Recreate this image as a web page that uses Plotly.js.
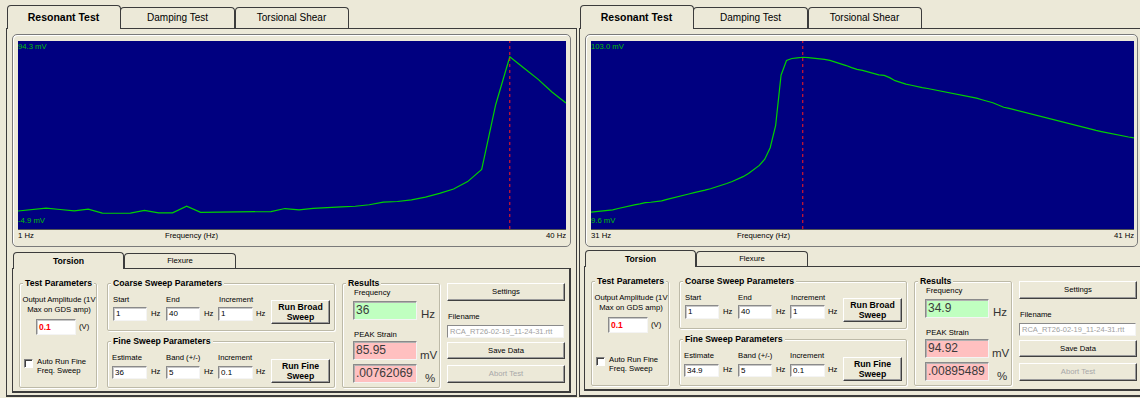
<!DOCTYPE html>
<html><head><meta charset="utf-8">
<script src="https://cdn.plot.ly/plotly-3.0.1.min.js"></script>
<style>
html,body{margin:0;padding:0;}
body{width:1140px;height:398px;overflow:hidden;background:#ECE9D8;position:relative;font-family:"Liberation Sans",Arial,sans-serif;font-size:7.7px;color:#000;}
.a{position:absolute;box-sizing:border-box;}
.t{position:absolute;white-space:nowrap;line-height:10px;}
.tab{position:absolute;box-sizing:border-box;border:1px solid #3c3c3c;border-bottom:none;border-radius:4px 4px 0 0;background:#ECE9D8;text-align:center;white-space:nowrap;}
.page{position:absolute;box-sizing:border-box;border:1px solid #3c3c3c;}
.frame{position:absolute;box-sizing:border-box;border:1px solid #7a7a7a;border-radius:5px;box-shadow:inset 1px 1px 0 #fff;}
.grp{position:absolute;box-sizing:border-box;border:1px solid #bdbaa8;border-radius:2px;box-shadow:inset 1px 1px 0 #fff,1px 1px 0 #fff;}
.gt{position:absolute;background:#ECE9D8;font-weight:bold;font-size:8.7px;padding:0 2px;line-height:10px;white-space:nowrap;}
.inp{position:absolute;box-sizing:border-box;background:#fff;border:1px solid;border-color:#8a8a8a #f4f4f4 #f4f4f4 #8a8a8a;box-shadow:inset 1px 1px 0 #c8c8c8;font-size:8px;padding-left:2px;white-space:nowrap;overflow:hidden;}
.btn{position:absolute;box-sizing:border-box;background:#ECE9D8;border:1px solid;border-color:#fff #404040 #404040 #fff;box-shadow:inset -1px -1px 0 #9a9a9a;text-align:center;display:flex;align-items:center;justify-content:center;line-height:10px;white-space:nowrap;}
.res{position:absolute;box-sizing:border-box;border:1px solid;border-color:#8a8a8a #f4f4f4 #f4f4f4 #8a8a8a;box-shadow:inset 1px 1px 0 #b0b0b0;font-size:12px;color:#3a3a3a;padding-left:2px;}
.chk{position:absolute;box-sizing:border-box;background:#fff;border:1px solid;border-color:#808080 #fff #fff #808080;box-shadow:inset 1px 1px 0 #404040;}
</style></head><body>
<div id="gui"></div>
<div id="plotL" class="a"></div>
<div id="plotR" class="a"></div>
<script>
// ---------- chart data ----------
const leftFreq = [1,2,3,4,5,6,7,8,9,10,11,12,13,14,15,16,17,18,19,20,21,22,23,24,25,26,27,28,29,30,31,32,33,34,35,36,37,38,39,40];
const leftStrain = [4.6,5.3,6.1,5.4,4.7,5.6,3.5,3.4,3.5,4.9,3.6,3.6,7.1,3.9,4.0,4.1,4.1,4.2,4.3,5.9,5.2,6.0,6.2,6.8,7.1,7.9,9.3,9.6,10.5,11.9,13.9,16.2,20.1,26.5,60.8,85.95,80.1,74.2,67.4,61.6];
const rightFreq = [31.0,31.1,31.2,31.3,31.4,31.5,31.6,31.7,31.8,31.9,32.0,32.1,32.2,32.3,32.4,32.5,32.6,32.7,32.8,32.9,33.0,33.1,33.2,33.3,33.4,33.5,33.6,33.7,33.8,33.9,34.0,34.1,34.2,34.3,34.4,34.5,34.6,34.7,34.8,34.9,35.0,35.1,35.2,35.3,35.4,35.5,35.6,35.7,35.8,35.9,36.0,36.1,36.2,36.3,36.4,36.5,36.6,36.7,36.8,36.9,37.0,37.1,37.2,37.3,37.4,37.5,37.6,37.7,37.8,37.9,38.0,38.1,38.2,38.3,38.4,38.5,38.6,38.7,38.8,38.9,39.0,39.1,39.2,39.3,39.4,39.5,39.6,39.7,39.8,39.9,40.0,40.1,40.2,40.3,40.4,40.5,40.6,40.7,40.8,40.9,41.0];
const rightStrain = [18.0,18.3,18.5,18.8,19.1,19.8,20.5,21.0,21.6,22.1,22.7,22.9,23.1,23.6,24.3,24.9,25.6,26.3,27.0,27.7,28.2,28.9,29.6,30.4,31.2,32.2,33.2,34.3,35.6,37.2,39.0,41.2,44.3,50.0,61.0,86.0,93.3,94.3,94.6,94.92,94.7,94.5,94.2,93.9,93.4,92.6,91.8,90.8,89.8,88.9,88.4,87.6,86.8,86.2,85.9,84.8,83.3,82.3,81.6,81.0,80.3,79.8,79.4,78.9,78.3,77.7,77.2,76.6,76.2,75.7,75.3,74.6,73.8,73.1,72.3,71.2,70.1,69.5,68.8,68.2,67.6,67.0,66.3,65.6,64.8,64.2,63.4,62.6,61.8,61.1,60.6,60.0,59.3,58.6,58.0,57.4,56.9,56.3,55.8,55.3,54.9];
const yMin = [-4.9, 9.6];
const yMax = [94.3, 103.0];
const xMin = [1, 31];
const xMax = [40, 41];
const peakFreq = [36, 34.9];
const yTopLabels = ["94.3 mV", "103.0 mV"];
const yBottomLabels = ["-4.9 mV", "9.6 mV"];
const xStartLabels = ["1 Hz", "31 Hz"];
const xEndLabels = ["40 Hz", "41 Hz"];
const xTitle = "Frequency (Hz)";
// ---------- GUI texts ----------
const topTabs = ["Resonant Test", "Damping Test", "Torsional Shear"];
const lowerTabs = ["Torsion", "Flexure"];
const outputAmp = ["0.1", "0.1"];
const coarseStart = ["1", "1"];
const coarseEnd = ["40", "40"];
const coarseInc = ["1", "1"];
const fineEstimate = ["36", "34.9"];
const fineBand = ["5", "5"];
const fineInc = ["0.1", "0.1"];
const resultFreq = ["36", "34.9"];
const resultPeak = ["85.95", "94.92"];
const resultPct = [".00762069", ".00895489"];
const fileName = "RCA_RT26-02-19_11-24-31.rtt";

const G = [];
function el(cls, x, y, w, h, html, style) {
  G.push('<div class="' + cls + '" style="left:' + x + 'px;top:' + y + 'px;' +
    (w != null ? 'width:' + w + 'px;' : '') + (h != null ? 'height:' + h + 'px;' : '') + (style || '') + '">' + (html || '') + '</div>');
}
function txt(x, yc, s, style) { el('t', x, yc - 5, null, null, s, style); }
function txtC(xc, yc, s, style) { el('t', xc - 60, yc - 5, 120, null, s, 'text-align:center;' + (style || '')); }

function buildTop(ox, pageW, frameW) {
  el('page', ox + 6, 28, pageW, 369, '', 'border-bottom-width:2px;');
  const tx = [6.5, 120, 234.5], tw = [114, 115, 114];
  for (let i = 2; i >= 0; i--) {
    if (i === 0) el('tab', ox + tx[i], 5, tw[i], 24, topTabs[i], 'z-index:3;font-weight:bold;font-size:10.5px;line-height:23px;');
    else el('tab', ox + tx[i], 7, tw[i], 21, topTabs[i], 'z-index:2;font-size:10px;line-height:20px;');
  }
  el('frame', ox + 12, 34, frameW, 213);
}

function buildLower(ox, oy, k) {
  const X = v => ox + v, Y = v => oy + v;
  el('page', X(12), Y(268), 559, 125, '', 'border-bottom-width:2px;border-right-width:2px;');
  el('tab', X(124), Y(253), 112, 15, lowerTabs[1], 'z-index:2;line-height:14px;');
  el('tab', X(13), Y(252), 111, 17, lowerTabs[0], 'z-index:3;font-weight:bold;font-size:8.7px;line-height:17px;');
  // Test parameters
  el('grp', X(19), Y(283), 78, 105);
  el('gt', X(23), Y(278), null, null, 'Test Parameters');
  txtC(X(59), Y(300), 'Output Amplitude (1V');
  txtC(X(59), Y(310), 'Max on GDS amp)');
  el('inp', X(36), Y(319), 40, 16, outputAmp[k], 'color:#ff0000;font-weight:bold;font-size:8.5px;line-height:14px;');
  txt(X(79), Y(327), '(V)');
  el('chk', X(24), Y(359), 9, 9);
  txt(X(37), Y(362), 'Auto Run Fine');
  txt(X(37), Y(371), 'Freq. Sweep');
  // Coarse sweep
  el('grp', X(107), Y(283), 228, 48);
  el('gt', X(111), Y(278), null, null, 'Coarse Sweep Parameters');
  txt(X(113), Y(300), 'Start'); txt(X(166), Y(300), 'End'); txt(X(219), Y(300), 'Increment');
  el('inp', X(113), Y(307), 34, 14, coarseStart[k], 'line-height:12px;');
  el('inp', X(166), Y(307), 34, 14, coarseEnd[k], 'line-height:12px;');
  el('inp', X(218), Y(307), 35, 14, coarseInc[k], 'line-height:12px;');
  txt(X(151), Y(314), 'Hz'); txt(X(204), Y(314), 'Hz'); txt(X(256), Y(314), 'Hz');
  el('btn', X(271), Y(300), 59, 24, 'Run Broad<br>Sweep', 'font-weight:bold;font-size:8.7px;');
  // Fine sweep
  el('grp', X(107), Y(341), 228, 47);
  el('gt', X(111), Y(336), null, null, 'Fine Sweep Parameters');
  txt(X(112), Y(358), 'Estimate'); txt(X(166), Y(358), 'Band (+/-)'); txt(X(218), Y(358), 'Increment');
  el('inp', X(112), Y(366), 35, 13, fineEstimate[k], 'line-height:11px;');
  el('inp', X(166), Y(366), 34, 13, fineBand[k], 'line-height:11px;');
  el('inp', X(218), Y(366), 35, 13, fineInc[k], 'line-height:11px;');
  txt(X(151), Y(372), 'Hz'); txt(X(204), Y(372), 'Hz'); txt(X(256), Y(372), 'Hz');
  el('btn', X(271), Y(359), 59, 24, 'Run Fine<br>Sweep', 'font-weight:bold;font-size:8.7px;');
  // Results
  el('grp', X(342), Y(283), 98, 105);
  el('gt', X(346), Y(278), null, null, 'Results');
  txt(X(354), Y(293), 'Frequency');
  el('res', X(353), Y(301), 64, 19, resultFreq[k], 'background:#C0FFC0;line-height:17px;');
  txt(X(421), Y(313), 'Hz', 'font-size:11.5px;color:#333;line-height:12px;');
  txt(X(354), Y(335), 'PEAK Strain');
  el('res', X(353), Y(341), 64, 19, resultPeak[k], 'background:#FFC0C0;line-height:17px;');
  txt(X(420), Y(354), 'mV', 'font-size:11.5px;color:#333;line-height:12px;');
  el('res', X(353), Y(364), 64, 19, resultPct[k], 'background:#FFC0C0;line-height:17px;');
  txt(X(425), Y(377), '%', 'font-size:11.5px;color:#333;line-height:12px;');
  // Buttons column
  el('btn', X(447), Y(283), 118, 18, 'Settings');
  txt(X(448), Y(317), 'Filename');
  el('inp', X(447), Y(325), 117, 13, fileName, 'color:#a0a0a0;font-size:7.5px;line-height:11px;box-shadow:none;');
  el('btn', X(447), Y(342), 118, 17, 'Save Data');
  el('btn', X(447), Y(365), 118, 18, 'Abort Test', 'color:#a8a8a8;');
}

buildTop(0, 571, 559);
buildTop(573, 620, 553);
buildLower(0, 0, 0);
buildLower(572, -2, 1);
document.getElementById('gui').innerHTML = G.join('');

const FONT = '"Liberation Sans", Arial, sans-serif';
function drawPlot(id, left, width, xs, ys, k) {
  const div = document.getElementById(id);
  div.style.left = left + 'px';
  div.style.top = '41px';
  div.style.width = width + 'px';
  div.style.height = '201px';
  div.style.zIndex = 5;
  const data = [{x: xs, y: ys, type: 'scatter', mode: 'lines', line: {color: '#00d000', width: 1.2}, hoverinfo: 'skip'}];
  const layout = {
    width: width, height: 201,
    margin: {l: 0, r: 0, t: 0, b: 13, pad: 0},
    paper_bgcolor: 'rgba(0,0,0,0)', plot_bgcolor: '#000080',
    showlegend: false,
    xaxis: {range: [xMin[k], xMax[k]], showgrid: false, zeroline: false, showticklabels: false, ticks: '', showline: true, linecolor: '#555', linewidth: 1},
    yaxis: {range: [yMin[k], yMax[k]], showgrid: false, zeroline: false, showticklabels: false, ticks: '', showline: false},
    shapes: [{type: 'line', xref: 'x', yref: 'paper', x0: peakFreq[k], x1: peakFreq[k], y0: 0, y1: 1, line: {color: '#ff1a1a', width: 1, dash: '3px,3px'}}],
    annotations: [
      {xref: 'paper', yref: 'paper', x: 0, y: 1, xanchor: 'left', yanchor: 'top', text: yTopLabels[k], showarrow: false, xshift: -2, yshift: 1, font: {family: FONT, size: 7.7, color: '#00c000'}},
      {xref: 'paper', yref: 'paper', x: 0, y: 0, xanchor: 'left', yanchor: 'bottom', text: yBottomLabels[k], showarrow: false, xshift: -2, yshift: 2, font: {family: FONT, size: 7.7, color: '#00c000'}},
      {xref: 'paper', yref: 'paper', x: 0, y: 0, xanchor: 'left', yanchor: 'top', text: xStartLabels[k], showarrow: false, xshift: -2, yshift: 0, font: {family: FONT, size: 7.7, color: '#000'}},
      {xref: 'paper', yref: 'paper', x: 0.269, y: 0, xanchor: 'left', yanchor: 'top', text: xTitle, showarrow: false, xshift: -2, yshift: 0, font: {family: FONT, size: 7.7, color: '#000'}},
      {xref: 'paper', yref: 'paper', x: 1, y: 0, xanchor: 'right', yanchor: 'top', text: xEndLabels[k], showarrow: false, xshift: 2, yshift: 0, font: {family: FONT, size: 7.7, color: '#000'}}
    ]
  };
  Plotly.newPlot(div, data, layout, {staticPlot: true, displayModeBar: false});
}
drawPlot('plotL', 18, 548, leftFreq, leftStrain, 0);
drawPlot('plotR', 591, 543, rightFreq, rightStrain, 1);
</script></body></html>
